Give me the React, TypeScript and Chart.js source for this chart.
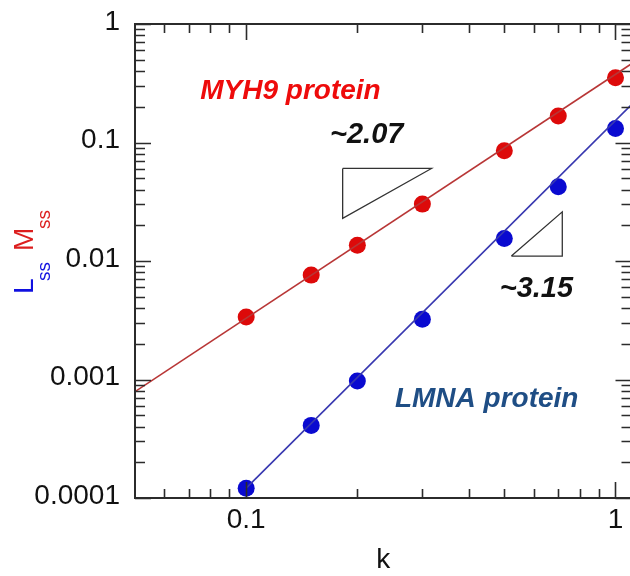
import React, { useEffect, useRef } from 'react';
import { Chart, registerables } from 'chart.js';

Chart.register(...registerables);

// ---- data ----
const kValues = [0.1, 0.15, 0.2, 0.3, 0.5, 0.7, 1.0];
const myh9Values = [0.00337, 0.0076, 0.0136, 0.0302, 0.085, 0.167, 0.352];
const lmnaValues = [0.000121, 0.00041, 0.00097, 0.00323, 0.0155, 0.0423, 0.1315];

const myh9FitK = [0.05, 1.105];
const myh9FitValues = [0.00079, 0.462];
const lmnaFitK = [0.1, 1.105];
const lmnaFitValues = [0.000121, 0.2085];

const slope1K = [0.1825, 0.3175, 0.1825, 0.1825];
const slope1Values = [0.0604, 0.0604, 0.0229, 0.0604];
const slope2K = [0.5225, 0.7177, 0.7177, 0.5225];
const slope2Values = [0.011, 0.011, 0.026, 0.011];

const xTickValues = [0.1, 1];
const xTickLabels = ['0.1', '1'];
const yTickValues = [0.0001, 0.001, 0.01, 0.1, 1];
const yTickLabels = ['0.0001', '0.001', '0.01', '0.1', '1'];

const xMinorTicks = [0.06, 0.07, 0.08, 0.09, 0.2, 0.3, 0.4, 0.5, 0.6, 0.7, 0.8, 0.9];
const yMinorTicks: number[] = [];
for (let e = -4; e < 0; e++) {
  for (let m = 2; m <= 9; m++) yMinorTicks.push(m * Math.pow(10, e));
}

const FONT = '"Liberation Sans", Arial, Helvetica, sans-serif';

const toXY = (xs: number[], ys: number[]) => xs.map((x, i) => ({ x, y: ys[i] }));

const framePlugin = {
  id: 'frameTicks',
  afterDatasetsDraw(chart: any) {
    const { ctx, chartArea: a, scales } = chart;
    const xs = scales.x;
    const ys = scales.y;
    ctx.save();
    ctx.strokeStyle = '#2b2b2b';
    ctx.lineCap = 'butt';
    ctx.lineWidth = 1.6;
    ctx.beginPath();
    const major = 16;
    const minorX = 9;
    const minorY = 10;
    xTickValues.forEach((v) => {
      const p = Math.round(xs.getPixelForValue(v)) + 0.5;
      ctx.moveTo(p, a.bottom); ctx.lineTo(p, a.bottom - major);
      ctx.moveTo(p, a.top); ctx.lineTo(p, a.top + major);
    });
    xMinorTicks.forEach((v) => {
      const p = Math.round(xs.getPixelForValue(v)) + 0.5;
      ctx.moveTo(p, a.bottom); ctx.lineTo(p, a.bottom - minorX);
      ctx.moveTo(p, a.top); ctx.lineTo(p, a.top + minorX);
    });
    yTickValues.forEach((v) => {
      const p = Math.round(ys.getPixelForValue(v)) + 0.5;
      ctx.moveTo(a.left, p); ctx.lineTo(a.left + major, p);
      ctx.moveTo(a.right, p); ctx.lineTo(a.right - major, p);
    });
    yMinorTicks.forEach((v) => {
      const p = Math.round(ys.getPixelForValue(v)) + 0.5;
      ctx.moveTo(a.left, p); ctx.lineTo(a.left + minorY, p);
      ctx.moveTo(a.right, p); ctx.lineTo(a.right - minorY, p);
    });
    ctx.stroke();
    ctx.lineWidth = 2;
    ctx.strokeRect(a.left, a.top, a.right - a.left, a.bottom - a.top);
    ctx.restore();
  },
  afterDraw(chart: any) {
    const { ctx, scales } = chart;
    const xs = scales.x;
    const ys = scales.y;
    const at = (x: number, y: number) => [xs.getPixelForValue(x), ys.getPixelForValue(y)];
    ctx.save();
    ctx.textBaseline = 'alphabetic';
    ctx.textAlign = 'left';

    const label = (text: string, x: number, y: number, color: string, size: number) => {
      const [px, py] = at(x, y);
      ctx.font = `italic bold ${size}px ${FONT}`;
      ctx.fillStyle = color;
      ctx.fillText(text, px, py);
    };
    label('MYH9 protein', 0.0751, 0.2315, '#ee0b0b', 28);
    label('~2.07', 0.1687, 0.0985, '#111111', 29);
    label('~3.15', 0.4858, 0.0050, '#111111', 29);
    label('LMNA protein', 0.2528, 0.00059, '#1f4e85', 28);

    // y-axis title: L_ss M_ss (rotated)
    ctx.translate(33, 294);
    ctx.rotate(-Math.PI / 2);
    ctx.font = `28px ${FONT}`;
    ctx.fillStyle = '#1010e0';
    ctx.fillText('L', 0, 0);
    ctx.font = `19px ${FONT}`;
    ctx.fillText('ss', 13, 17);
    ctx.font = `28px ${FONT}`;
    ctx.fillStyle = '#dc1e1e';
    ctx.fillText('M', 43, 0);
    ctx.font = `19px ${FONT}`;
    ctx.fillText('ss', 65, 17);
    ctx.restore();
  },
};

export default function App() {
  const canvasRef = useRef<HTMLCanvasElement | null>(null);

  useEffect(() => {
    document.body.style.margin = '0';
    document.body.style.overflow = 'hidden';
    const canvas = canvasRef.current;
    if (!canvas) return;
    const chart = new Chart(canvas, {
      type: 'scatter',
      data: {
        datasets: [
          {
            label: 'MYH9 fit',
            data: toXY(myh9FitK, myh9FitValues),
            showLine: true,
            borderColor: '#b83636',
            borderWidth: 1.6,
            pointRadius: 0,
          },
          {
            label: 'LMNA fit',
            data: toXY(lmnaFitK, lmnaFitValues),
            showLine: true,
            borderColor: '#3838b0',
            borderWidth: 1.6,
            pointRadius: 0,
          },
          {
            label: 'slope 2.07',
            data: toXY(slope1K, slope1Values),
            showLine: true,
            borderColor: '#333333',
            borderWidth: 1.3,
            pointRadius: 0,
          },
          {
            label: 'slope 3.15',
            data: toXY(slope2K, slope2Values),
            showLine: true,
            borderColor: '#333333',
            borderWidth: 1.3,
            pointRadius: 0,
          },
          {
            label: 'MYH9 protein',
            data: toXY(kValues, myh9Values),
            showLine: false,
            pointRadius: 8.5,
            pointBackgroundColor: '#dd0a0a',
            pointBorderColor: '#dd0a0a',
            pointBorderWidth: 0,
          },
          {
            label: 'LMNA protein',
            data: toXY(kValues, lmnaValues),
            showLine: false,
            pointRadius: 8.5,
            pointBackgroundColor: '#0a0ad0',
            pointBorderColor: '#0a0ad0',
            pointBorderWidth: 0,
          },
        ],
      },
      options: {
        animation: false,
        responsive: false,
        devicePixelRatio: 1,
        layout: { padding: { left: 0, top: 24, right: 8, bottom: 0 } },
        plugins: { legend: { display: false }, tooltip: { enabled: false } },
        scales: {
          x: {
            type: 'logarithmic',
            position: 'bottom',
            min: 0.05,
            max: 1.105,
            bounds: 'data',
            border: { display: false },
            grid: { display: false, drawTicks: false },
            afterBuildTicks: (s: any) => {
              s.ticks = xTickValues.map((v) => ({ value: v }));
            },
            afterFit: (s: any) => {
              s.height = 78;
              s.paddingLeft = 0;
              s.paddingRight = 0;
            },
            ticks: {
              autoSkip: false,
              maxRotation: 0,
              padding: 5,
              color: '#111111',
              font: { family: FONT, size: 28 },
              callback: (v: any) => {
                const i = xTickValues.indexOf(Number(v));
                return i >= 0 ? xTickLabels[i] : '';
              },
            },
            title: {
              display: true,
              text: 'k',
              color: '#111111',
              font: { family: FONT, size: 28 },
              padding: { top: 0, bottom: -1 },
            },
          },
          y: {
            type: 'logarithmic',
            position: 'left',
            min: 0.0001,
            max: 1,
            bounds: 'data',
            border: { display: false },
            grid: { display: false, drawTicks: false },
            afterBuildTicks: (s: any) => {
              s.ticks = yTickValues.map((v) => ({ value: v }));
            },
            afterFit: (s: any) => {
              s.width = 135;
              s.paddingTop = 0;
              s.paddingBottom = 0;
            },
            ticks: {
              autoSkip: false,
              padding: 15,
              labelOffset: -2,
              color: '#111111',
              font: { family: FONT, size: 28 },
              callback: (v: any) => {
                const i = yTickValues.indexOf(Number(v));
                return i >= 0 ? yTickLabels[i] : '';
              },
            },
          },
        },
      },
      plugins: [framePlugin],
    });
    return () => chart.destroy();
  }, []);

  return (
    <div style={{ width: 630, height: 576, overflow: 'hidden', position: 'relative', background: '#fff' }}>
      <canvas ref={canvasRef} width={640} height={576} style={{ display: 'block' }} />
    </div>
  );
}
